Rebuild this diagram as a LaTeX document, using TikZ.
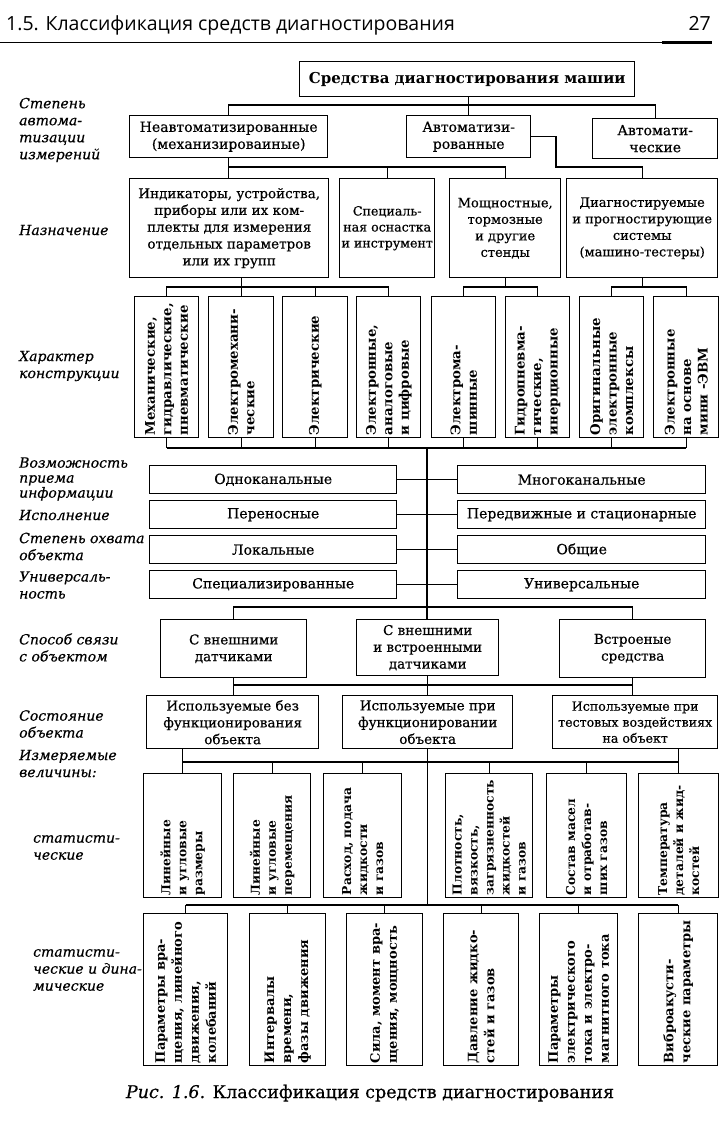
\documentclass[tikz,border=0pt]{standalone}
\usepackage{fontspec}
\setmainfont{DejaVu Serif}
\newfontfamily\medfont{DejaVu Serif}[FakeBold=0.5]
\newfontfamily\hdrfont{Open Sans}
\newcommand\bx[7]{\node[box,#6,anchor=north west,minimum width=#4pt,minimum height=#5pt] (#1) at (#2,#3) {#7};}
\newcommand\vb[7]{\node[box,anchor=north west,minimum width=#4pt,minimum height=#5pt] (#1) at (#2,#3) {};
  \node[#6] (#1t) at ([yshift=3pt]#1.south) {#7};}
\begin{document}
\begin{tikzpicture}[x=1pt,y=-1pt,
  box/.style={draw,line width=1.4pt,inner sep=1pt,align=center},
  conn/.style={line width=1.1pt},
  vtext/.style={rotate=90,anchor=west,align=left,inner sep=0pt,font=\bfseries\fontsize{13.3}{16.5}\selectfont},
  vtextq/.style={vtext,font=\bfseries\fontsize{13}{17}\selectfont},
  vtexts/.style={vtext,font=\bfseries\fontsize{12.3}{16}\selectfont},
  lbl/.style={anchor=west,align=left,inner sep=0pt,font=\medfont\itshape\fontsize{14}{17}\selectfont},
  fa/.style={font=\medfont\fontsize{12.6}{16}\selectfont},
  fb/.style={font=\medfont\fontsize{13}{16.5}\selectfont},
  fi/.style={font=\medfont\fontsize{13.5}{16.8}\selectfont},
  fc/.style={font=\medfont\fontsize{14}{17}\selectfont},
]
\useasboundingbox (0,0) rectangle (727,1121);
% header
\node[anchor=base west,inner sep=0pt,font=\hdrfont\fontsize{19.5}{22}\selectfont] (hd) at (6,31) {1.5. Классификация средств диагностирования};
\node[anchor=base east,inner sep=0pt,font=\hdrfont\fontsize{19.5}{22}\selectfont] (pg) at (711,31) {27};
\draw[line width=0.5pt] (0,42.5) -- (712,42.5);
\fill (662,41) rectangle (712,44.5);
% boxes
\bx{T}{299}{61}{335}{35}{font=\bfseries\fontsize{15}{18}\selectfont}{Средства диагностирования машии}
\bx{N}{129}{115}{198}{42}{fc}{Неавтоматизированные\\(механизироваиные)}
\bx{A}{406}{115}{124}{42}{fc}{Автоматизи-\\рованные}
\bx{M}{592}{118}{125}{40}{fc}{Автомати-\\ческие}
\bx{I}{129}{178}{199}{99}{fi}{Индикаторы, устройства,\\приборы или их ком-\\плекты для измерения\\отдельных параметров\\или их групп}
\bx{S}{339}{178}{95}{99}{fa}{Специаль-\\ная оснастка\\и инструмент}
\bx{P}{449}{178}{111}{99}{fb}{Мощностные,\\тормозные\\и другие\\стенды}
\bx{D}{566}{178}{151}{99}{fb}{Диагностируемые\\и прогностирующие\\системы\\(машино-тестеры)}
\vb{V1}{134}{296}{64}{141}{vtext}{Механические,\\гидравлические,\\пневматические}
\vb{V2}{208}{296}{65}{141}{vtext}{Электромехани-\\ческие}
\vb{V3}{282}{296}{65}{141}{vtext}{Электрические}
\vb{V4}{356}{296}{64}{141}{vtext}{Электронные,\\аналоговые\\и цифровые}
\vb{V5}{431}{296}{64}{141}{vtext}{Электрома-\\шинные}
\vb{V6}{505}{296}{64}{141}{vtext}{Гидропневма-\\тические,\\инерционные}
\vb{V7}{579}{296}{64}{141}{vtext}{Оригинальные\\электронные\\комплексы}
\vb{V8}{653}{296}{65}{141}{vtext}{Электронные\\на основе\\мини -ЭВМ}
\bx{L1}{149}{465}{247}{28}{fc}{Одноканальные}
\bx{R1}{457}{465}{248}{28}{fc}{Многоканальные}
\bx{L2}{149}{500}{247}{28}{fc}{Переносные}
\bx{R2}{457}{500}{248}{28}{fc}{Передвижные и стационарные}
\bx{L3}{149}{535}{247}{28}{fc}{Локальные}
\bx{R3}{457}{535}{248}{28}{fc}{Общие}
\bx{L4}{149}{570}{247}{28}{fc}{Специализированные}
\bx{R4}{457}{570}{248}{28}{fc}{Универсальные}
\bx{C1}{160}{619}{146}{58}{fi}{С внешними\\датчиками}
\bx{C2}{356}{619}{142}{56}{fi}{С внешними\\и встроенными\\датчиками}
\bx{C3}{559}{619}{146}{58}{fi}{Встроеные\\средства}
\bx{U1}{146}{695}{172}{53}{fi}{Используемые без\\функционирования\\объекта}
\bx{U2}{342}{695}{170}{53}{fi}{Используемые при\\функционировании\\объекта}
\bx{U3}{552}{695}{165}{53}{fa}{Используемые при\\тестовых воздействиях\\на объект}
\vb{S1}{143}{773}{78}{124}{vtexts}{Линейные\\и угловые\\размеры}
\vb{S2}{233}{773}{77}{124}{vtexts}{Линейные\\и угловые\\перемещения}
\vb{S3}{323}{773}{78}{124}{vtexts}{Расход, подача\\жидкости\\и газов}
\vb{S4}{445}{773}{87}{124}{vtexts}{Плотность,\\вязкость,\\загрязненность\\жидкостей\\и газов}
\vb{S5}{546}{773}{80}{124}{vtexts}{Состав масел\\и отработав-\\ших газов}
\vb{S6}{638}{773}{80}{124}{vtexts}{Температура\\деталей и жид-\\костей}
\vb{Q1}{143}{913}{84}{152}{vtextq}{Параметры вра-\\щения, линейного\\движения,\\колебаний}
\vb{Q2}{249}{913}{76}{152}{vtextq}{Интервалы\\времени,\\фазы движения}
\vb{Q3}{346}{913}{76}{152}{vtextq}{Сила, момент вра-\\щения, мощность}
\vb{Q4}{443}{913}{75}{152}{vtextq}{Давление жидко-\\стей и газов}
\vb{Q5}{539}{913}{78}{152}{vtextq}{Параметры\\электрического\\тока и электро-\\магнитного тока}
\vb{Q6}{638}{913}{79}{152}{vtextq}{Виброакусти-\\ческие параметры}
% labels
\node[lbl] (l1) at (19,130) {Степень\\автома-\\тизации\\измерений};
\node[lbl] (l2) at (19,230) {Назначение};
\node[lbl] (l3) at (19,366) {Характер\\конструкции};
\node[lbl,font=\medfont\itshape\fontsize{14}{15}\selectfont] (l4) at (19,479) {Возможность\\приема\\информации};
\node[lbl] (l5) at (19,515) {Исполнение};
\node[lbl] (l6) at (19,546.5) {Степень охвата\\объекта};
\node[lbl] (l7) at (19,585) {Универсаль-\\ность};
\node[lbl] (l8) at (19,647.5) {Способ связи\\с объектом};
\node[lbl] (l9) at (19,724) {Состояние\\объекта};
\node[lbl] (l10) at (19,763.5) {Измеряемые\\величины:};
\node[lbl] (l11) at (33,847.5) {статисти-\\ческие};
\node[lbl] (l12) at (33,970) {статисти-\\ческие и дина-\\мические};
% caption
\node[anchor=base,inner sep=0pt,font=\medfont\fontsize{17.5}{20}\selectfont] (cap) at (370,1098) {\textit{Рис. 1.6.} Классификация средств диагностирования};
% connectors
\coordinate (y1) at (0,105);
\coordinate (y2) at (556,167);
\coordinate (y3) at (0,287);
\coordinate (y4) at (0,448);
\coordinate (y5) at (0,607);
\coordinate (y6) at (0,685);
\coordinate (y7) at (0,762);
\coordinate (y8) at (0,905);
\coordinate (tr) at (427,448);
\draw[conn] (T.south -| A.north) -- (A.north);
\draw[conn] (N.north) -- (N.north |- y1) -- (M.north |- y1) -- (M.north);
\draw[conn] (A.east) -- (A.east -| y2) -- (y2) -- (y2 -| D.north) -- (D.north);
\draw[conn] (N.south) -- (N.south |- I.north);
\draw[conn] (N.south |- y2) -- (P.north |- y2) -- (P.north);
\draw[conn] (S.north) -- (S.north |- y2);
\draw[conn] (V1.north) -- (V1.north |- y3) -- (V4.north |- y3) -- (V4.north);
\draw[conn] (V2.north) -- (V2.north |- I.south);
\draw[conn] (V3.north) -- (V3.north |- y3);
\draw[conn] (V5.north) -- (V5.north |- y3) -- (V6.north |- y3) -- (V6.north);
\draw[conn] (P.south) -- (P.south |- y3);
\draw[conn] (V7.north) -- (V7.north |- y3) -- (V8.north |- y3) -- (V8.north);
\draw[conn] (D.south) -- (D.south |- y3);
\foreach \v in {V1,V2,V3,V4,V5,V6,V7,V8} {\draw[conn] (\v.south) -- (\v.south |- y4);}
\draw[conn] (V1.south |- y4) -- (V8.south |- y4);
\draw[conn] (tr) -- (tr |- C2.north);
\foreach \k in {1,2,3,4} {\draw[conn] (L\k.east) -- (R\k.west);}
\draw[conn] (C1.north) -- (C1.north |- y5) -- (C3.north |- y5) -- (C3.north);
\draw[conn] (C1.south) -- (C1.south |- U1.north);
\draw[conn] (C2.south) -- (C2.south |- U2.north);
\draw[conn] (C3.south) -- (C3.south |- U3.north);
\draw[conn] (C1.south |- y6) -- (C3.south |- y6);
\draw[conn] (S1.north |- U1.south) -- (S1.north);
\draw[conn] (S6.north |- U3.south) -- (S6.north);
\draw[conn] (S1.north |- y7) -- (S6.north |- y7);
\foreach \s in {S2,S3,S4,S5} {\draw[conn] (\s.north |- y7) -- (\s.north);}
\draw[conn] (U2.south) -- (U2.south |- y8);
\draw[conn] (Q1.north |- y8) -- (Q6.north |- y8);
\foreach \q in {Q1,Q2,Q3,Q4,Q5,Q6} {\draw[conn] (\q.north |- y8) -- (\q.north);}
\end{tikzpicture}
\end{document}
